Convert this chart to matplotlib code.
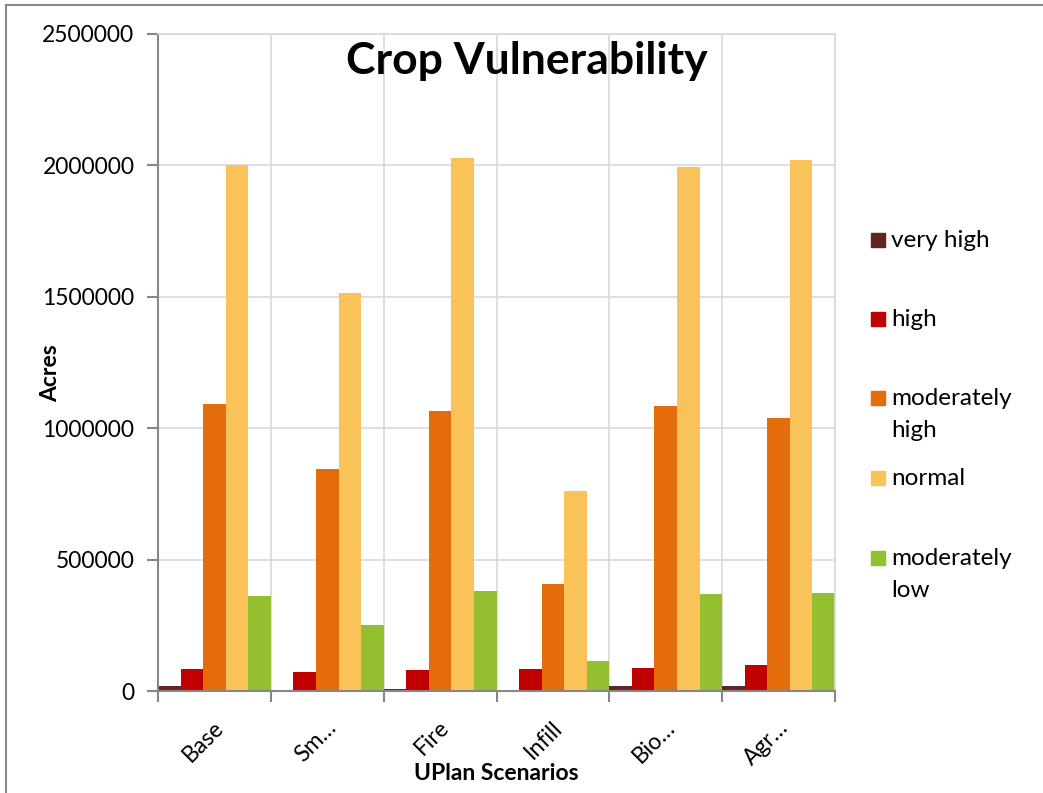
import matplotlib
matplotlib.use("Agg")
import matplotlib.pyplot as plt
import matplotlib.transforms as mtransforms
import numpy as np
from matplotlib.lines import Line2D
from matplotlib.patches import Rectangle

plt.rcParams["font.family"] = ["Lato", "DejaVu Sans"]

scenarios = ["Base", "Sm\u2026", "Fire", "Infill", "Bio\u2026", "Agr\u2026"]
series_names = ["very high", "high", "moderately\nhigh", "normal", "moderately\nlow"]
colors = ["#632523", "#C00000", "#E46C0A", "#F9C35A", "#93BF31"]

very_high = [20000, 4000, 8000, 1000, 19000, 20000]
high = [85000, 72000, 80000, 84000, 88000, 100000]
moderately_high = [1092000, 845000, 1065000, 407000, 1085000, 1040000]
normal = [2000000, 1515000, 2028000, 761000, 1994000, 2020000]
moderately_low = [362000, 251000, 380000, 115000, 370000, 373000]
series = [very_high, high, moderately_high, normal, moderately_low]

W, H = 1043, 793
fig = plt.figure(figsize=(W / 100, H / 100), dpi=100)
ax = fig.add_axes([158 / W, 1 - 691 / H, (835 - 158) / W, (691 - 34) / H])

x = np.arange(len(scenarios))
bw = 1 / 5
for i, (vals, c) in enumerate(zip(series, colors)):
    ax.bar(x - 0.5 + bw * (i + 0.5), vals, width=bw, color=c, edgecolor="none", zorder=2)

ax.set_xlim(-0.5, len(scenarios) - 0.5)
ax.set_ylim(0, 2500000)
ax.set_yticks(np.arange(0, 2500001, 500000))
ax.set_yticklabels([f"{v}" for v in range(0, 2500001, 500000)])
ax.yaxis.grid(True, color="#D9D9D9", lw=1.2, zorder=0)
ax.set_xticks(x)
ax.set_xticks(np.arange(len(scenarios) + 1) - 0.5, minor=True)
ax.xaxis.grid(True, which="minor", color="#D9D9D9", lw=1.2, zorder=0)
ax.tick_params(axis="x", which="major", length=0, pad=24)
ax.tick_params(axis="x", which="minor", length=8, color="#878787", width=1.5)
ax.tick_params(axis="y", length=8, color="#878787", width=1.5, pad=9, labelsize=16.5)
ax.set_xticklabels(scenarios, rotation=45, ha="right", va="center",
                   rotation_mode="anchor", fontsize=16.5)
shift = mtransforms.ScaledTranslation(6 / 100, 0, fig.dpi_scale_trans)
for lbl in ax.get_xticklabels():
    lbl.set_transform(lbl.get_transform() + shift)

for s in ["left", "bottom"]:
    ax.spines[s].set_color("#878787")
    ax.spines[s].set_linewidth(1.5)
for s in ["top", "right"]:
    ax.spines[s].set_color("#D9D9D9")
    ax.spines[s].set_linewidth(1.2)

ax.set_xlabel("UPlan Scenarios", fontsize=16.5, fontweight="bold", va="center")
ax.xaxis.set_label_coords(0.5, (691 - 773) / 657)
ax.set_ylabel("Acres", fontsize=16.5, fontweight="bold", va="center")
ax.yaxis.set_label_coords((51 - 158) / 677, (691 - 373) / 657)
fig.text(527 / W, 1 - 61 / H, "Crop Vulnerability", fontsize=32, fontweight="bold",
         ha="center", va="center")

# legend
tops = [240, 319, 398, 478, 558]
for t, name, c in zip(tops, series_names, colors):
    fig.patches.append(Rectangle((871 / W, 1 - (t + 7) / H), 14 / W, 14 / H,
                                 transform=fig.transFigure, color=c))
    fig.text(891 / W, 1 - (t - 10) / H, name, fontsize=17.5, ha="left", va="top",
             linespacing=1.65)

# outer chart frame
fig.add_artist(Line2D([6 / W, 6 / W], [0, 1 - 5 / H], color="#878787", lw=1.5))
fig.add_artist(Line2D([6 / W, 1], [1 - 5 / H, 1 - 5 / H], color="#878787", lw=1.5))

fig.savefig("out.png", dpi=100)
